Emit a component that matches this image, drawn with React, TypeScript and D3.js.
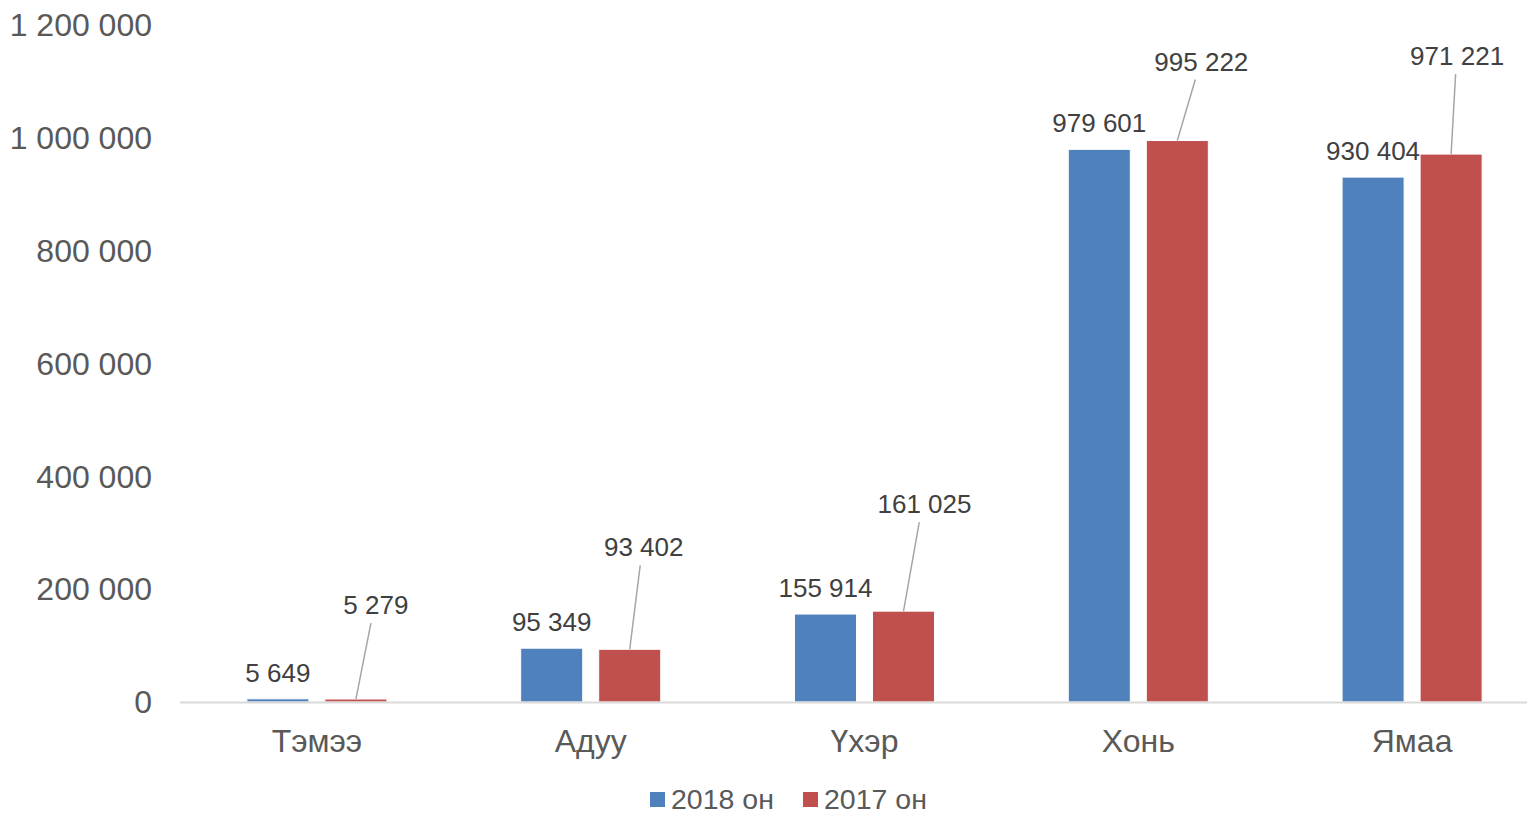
import { useEffect, useRef } from "react";
import * as d3 from "d3";

const categories = ["Тэмээ", "Адуу", "Үхэр", "Хонь", "Ямаа"];
const series2018 = [5649, 95349, 155914, 979601, 930404];
const series2017 = [5279, 93402, 161025, 995222, 971221];
const seriesNames = ["2018 он", "2017 он"];
const yTicks = [0, 200000, 400000, 600000, 800000, 1000000, 1200000];

// label offsets for the 2017 labels (moved out with leader lines)
const redLabelShift = [[20, -85], [14, -93], [21, -98], [24, -70], [6, -89]];

const colors = ["#4F81BD", "#C0504D"];
const fontFam = "'Liberation Sans', Arial, sans-serif";

function fmt(v: number) {
    return d3.format(",")(v).replace(/,/g, " ");
}

export default function App() {
    const svgRef = useRef<SVGSVGElement>(null);

    useEffect(() => {
        const svg = d3.select(svgRef.current);
        svg.selectAll("*").remove();

        const x0 = 172, x1 = 1541;
        const y = d3.scaleLinear().domain([0, 1200000]).range([694, 17]);
        const xb = d3.scaleBand().domain(categories).range([x0, x1]).paddingInner(0).paddingOuter(0);
        const xi = d3.scaleBand().domain(["a", "b"]).range([0, xb.bandwidth()]).paddingInner(0.205).paddingOuter(0.857);

        // y labels
        svg.append("g").selectAll("text").data(yTicks).join("text")
            .attr("x", 144)
            .attr("y", d => y(d))
            .attr("dy", "0.35em")
            .attr("text-anchor", "end")
            .attr("font-family", fontFam)
            .attr("font-size", 32)
            .attr("fill", "#595959")
            .text(d => fmt(d));

        const sets = [series2018, series2017];
        sets.forEach((vals, si) => {
            svg.append("g").selectAll("rect").data(vals).join("rect")
                .attr("x", (d, i) => (xb(categories[i]) as number) + (xi(si ? "b" : "a") as number))
                .attr("y", d => y(d))
                .attr("width", xi.bandwidth())
                .attr("height", d => y(0) - y(d))
                .attr("fill", colors[si])
                .attr("stroke", "#fff")
                .attr("stroke-width", 1);
        });

        // axis line
        svg.append("line")
            .attr("x1", x0).attr("x2", 1527)
            .attr("y1", y(0) + 0.5).attr("y2", y(0) + 0.5)
            .attr("stroke", "#d9d9d9").attr("stroke-width", 2);

        // blue labels
        svg.append("g").selectAll("text").data(series2018).join("text")
            .attr("x", (d, i) => (xb(categories[i]) as number) + (xi("a") as number) + xi.bandwidth() / 2)
            .attr("y", d => y(d) - 17)
            .attr("text-anchor", "middle")
            .attr("font-family", fontFam)
            .attr("font-size", 26)
            .attr("fill", "#404040")
            .text(d => fmt(d));

        // red labels with leader lines
        const g2 = svg.append("g");
        series2017.forEach((d, i) => {
            const cx = (xb(categories[i]) as number) + (xi("b") as number) + xi.bandwidth() / 2;
            const top = y(d);
            const [dx, dy] = redLabelShift[i];
            const lx = cx + dx, ly = top + dy;
            g2.append("line")
                .attr("x1", lx - dx * 0.25).attr("y1", ly + 9)
                .attr("x2", cx).attr("y2", top)
                .attr("stroke", "#a6a6a6").attr("stroke-width", 1.5);
            g2.append("text")
                .attr("x", lx).attr("y", ly)
                .attr("text-anchor", "middle")
                .attr("font-family", fontFam)
                .attr("font-size", 26)
                .attr("fill", "#404040")
                .text(fmt(d));
        });

        // category labels
        svg.append("g").selectAll("text").data(categories).join("text")
            .attr("x", d => (xb(d) as number) + xb.bandwidth() / 2)
            .attr("y", 744)
            .attr("text-anchor", "middle")
            .attr("font-family", fontFam)
            .attr("font-size", 32)
            .attr("fill", "#595959")
            .text(d => d);

        // legend
        const leg = svg.append("g");
        const legX = [642, 795];
        seriesNames.forEach((n, i) => {
            leg.append("rect")
                .attr("x", legX[i]).attr("y", 784)
                .attr("width", 15).attr("height", 15)
                .attr("fill", colors[i]);
            leg.append("text")
                .attr("x", legX[i] + 21).attr("y", 801)
                .attr("font-family", fontFam)
                .attr("font-size", 28.5)
                .attr("fill", "#595959")
                .text(n);
        });
    }, []);

    return <svg ref={svgRef} width={1527} height={806} style={{ display: "block", background: "#fff" }} />;
}
